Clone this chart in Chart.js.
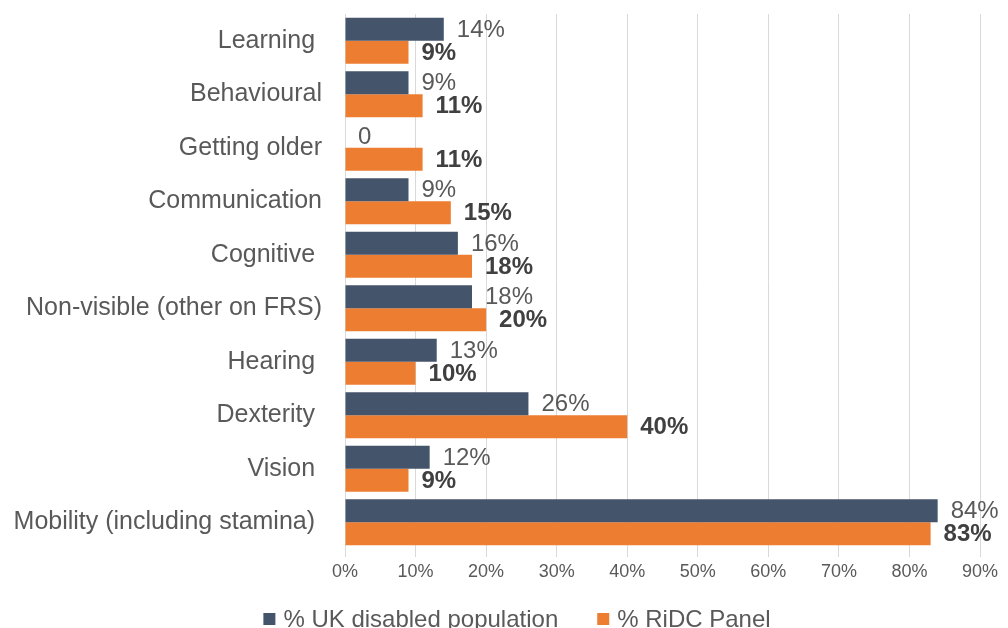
<!DOCTYPE html>
<html>
<head>
<meta charset="utf-8">
<script src="https://cdn.jsdelivr.net/npm/chart.js@4"></script>
<style>
html,body{margin:0;padding:0;background:#fff;overflow:hidden;}
canvas{display:block;}
</style>
</head>
<body>
<canvas id="c" width="1008" height="628"></canvas>
<script>
const categories = ["Learning ", "Behavioural", "Getting older", "Communication", "Cognitive ", "Non-visible (other on FRS)", "Hearing ", "Dexterity ", "Vision ", "Mobility (including stamina) "];
const ukDisabled = [14, 9, 0, 9, 16, 18, 13, 26, 12, 84];
const ridcPanel = [9, 11, 11, 15, 18, 20, 10, 40, 9, 83];
const xTicks = [0, 10, 20, 30, 40, 50, 60, 70, 80, 90];
const seriesNames = ["% UK disabled population", "% RiDC Panel"];

const FONT = "'Liberation Sans', Arial, sans-serif";

const labelPlugin = {
  id: 'barLabels',
  afterDatasetsDraw(chart) {
    const ctx = chart.ctx;
    ctx.save();
    ctx.textBaseline = 'middle';
    ctx.textAlign = 'left';
    chart.data.datasets.forEach((ds, di) => {
      const meta = chart.getDatasetMeta(di);
      meta.data.forEach((el, i) => {
        const v = ds.data[i];
        const txt = v === 0 ? '0' : v + '%';
        if (di === 0) {
          ctx.font = "24px " + FONT;
          ctx.fillStyle = '#595959';
        } else {
          ctx.font = "bold 24px " + FONT;
          ctx.fillStyle = '#404040';
        }
        ctx.fillText(txt, el.x + 13, el.y + 1);
      });
    });
    ctx.restore();
  }
};

const legendPlugin = {
  id: 'customLegend',
  afterDraw(chart) {
    const ctx = chart.ctx;
    ctx.save();
    ctx.font = "24px " + FONT;
    ctx.textBaseline = 'middle';
    ctx.textAlign = 'left';
    const box = 12, gapText = 8, gapItem = 39;
    const ds = chart.data.datasets;
    let total = 0;
    ds.forEach((d, i) => {
      total += box + gapText + ctx.measureText(d.label).width;
      if (i < ds.length - 1) total += gapItem;
    });
    let x = 517 - total / 2;
    const yc = 619;
    ds.forEach((d) => {
      ctx.fillStyle = d.backgroundColor;
      ctx.fillRect(x, yc - box / 2, box, box);
      x += box + gapText;
      ctx.fillStyle = '#595959';
      ctx.fillText(d.label, x, yc + 1);
      x += ctx.measureText(d.label).width + gapItem;
    });
    ctx.restore();
  }
};

new Chart(document.getElementById('c'), {
  type: 'bar',
  data: {
    labels: categories,
    datasets: [
      { label: seriesNames[0], data: ukDisabled, backgroundColor: '#44546A', categoryPercentage: 0.86, barPercentage: 1.0 },
      { label: seriesNames[1], data: ridcPanel, backgroundColor: '#ED7D31', categoryPercentage: 0.86, barPercentage: 1.0 }
    ]
  },
  options: {
    indexAxis: 'y',
    responsive: false,
    animation: false,
    layout: { padding: { left: 0, right: 28, top: 14, bottom: 33 } },
    plugins: {
      legend: { display: false },
      tooltip: { enabled: false }
    },
    scales: {
      x: {
        min: 0,
        max: 90,
        afterBuildTicks(scale) { scale.ticks = xTicks.map(v => ({ value: v })); },
        afterFit(scale) { scale.height = 46; },
        ticks: {
          callback: v => v + '%',
          font: { size: 18, family: FONT },
          color: '#595959',
          padding: 4
        },
        grid: { color: '#d9d9d9', lineWidth: 1, tickLength: 8, drawTicks: true },
        border: { display: false }
      },
      y: {
        afterFit(scale) {
          scale.width = 345;
          scale.paddingTop = 0;
          scale.paddingBottom = 0;
        },
        ticks: {
          font: { size: 25, family: FONT },
          color: '#595959',
          padding: 23,
          autoSkip: false
        },
        grid: { display: false, drawTicks: false },
        border: { display: true, color: '#d9d9d9', width: 1 }
      }
    }
  },
  plugins: [labelPlugin, legendPlugin]
});
</script>
</body>
</html>
